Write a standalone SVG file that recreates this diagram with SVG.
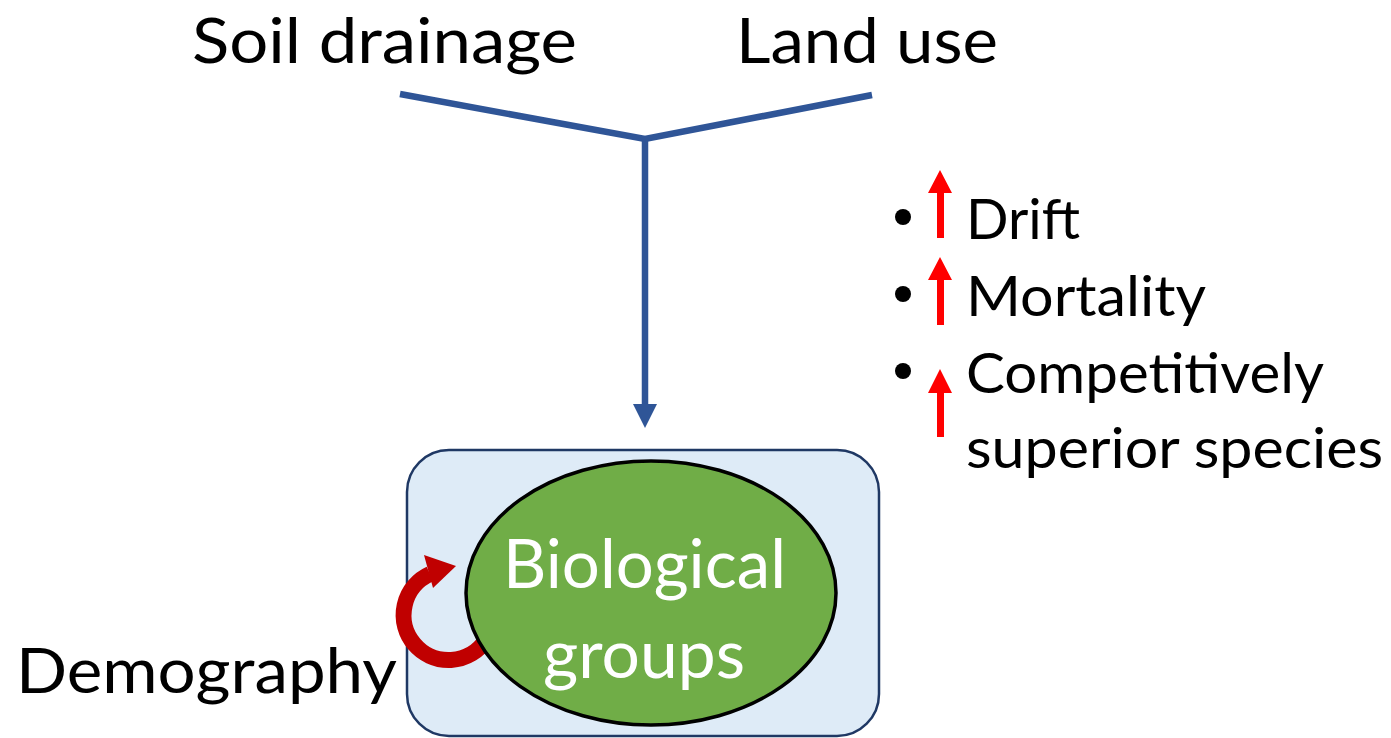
<svg xmlns="http://www.w3.org/2000/svg" width="1391" height="738" viewBox="0 0 1391 738">
<style>
.t{font-family:Lato,"Liberation Sans",sans-serif;fill:#000}
.big{font-size:61px}
.bul{font-size:57px}
.blue{stroke:#2F5597;stroke-width:6.5;fill:none}
.up{fill:#FF0000}
</style>
<g id="soil-drainage"><text class="t big" x="192" y="63" textLength="385" lengthAdjust="spacingAndGlyphs">Soil drainage</text></g>
<g id="land-use"><text class="t big" x="736" y="63" textLength="262" lengthAdjust="spacingAndGlyphs">Land use</text></g>
<g id="connectors">
<polyline class="blue" points="400,94 645,139 872,95"/>
<line class="blue" x1="645" y1="139" x2="645" y2="404"/>
<polygon points="633,404 657,404 645,428" fill="#2F5597"/>
</g>
<g id="container">
<rect x="407" y="450" width="472" height="286" rx="42" fill="#DEEBF7" stroke="#1F3864" stroke-width="2.5"/>
</g>
<g id="demography-loop">
<path d="M 486 640 A 45 45 0 1 1 430 574" fill="none" stroke="#C00000" stroke-width="16"/>
<polygon points="424,555 456,566 433,588" fill="#C00000"/>
</g>
<g id="biological-groups">
<ellipse cx="651" cy="593" rx="185" ry="132" fill="#70AD47" stroke="#000" stroke-width="3.5"/>
<text class="t" style="fill:#fff;font-size:67px" x="503" y="588" textLength="283" lengthAdjust="spacingAndGlyphs">Biological</text>
<text class="t" style="fill:#fff;font-size:67px" x="543" y="678" textLength="202" lengthAdjust="spacingAndGlyphs">groups</text>
</g>
<g id="demography"><text class="t big" x="16" y="693" textLength="381" lengthAdjust="spacingAndGlyphs">Demography</text></g>
<g id="effects">
<circle cx="903" cy="217" r="8"/>
<circle cx="903" cy="294" r="8"/>
<circle cx="903" cy="371" r="8"/>
<polygon class="up" points="940,170 952,193 944,193 944,238 937,238 937,193 928,193"/>
<polygon class="up" points="940,257 952,280 944,280 944,325 937,325 937,280 928,280"/>
<polygon class="up" points="940,369 952,393 944,393 944,437 937,437 937,393 928,393"/>
<text class="t bul" x="966" y="239" textLength="114" lengthAdjust="spacingAndGlyphs">Drift</text>
<text class="t bul" x="966" y="316" textLength="240" lengthAdjust="spacingAndGlyphs">Mortality</text>
<text class="t bul" x="966" y="393" textLength="358" lengthAdjust="spacingAndGlyphs">Competitively</text>
<text class="t bul" x="966" y="468" textLength="417" lengthAdjust="spacingAndGlyphs">superior species</text>
</g>
</svg>
